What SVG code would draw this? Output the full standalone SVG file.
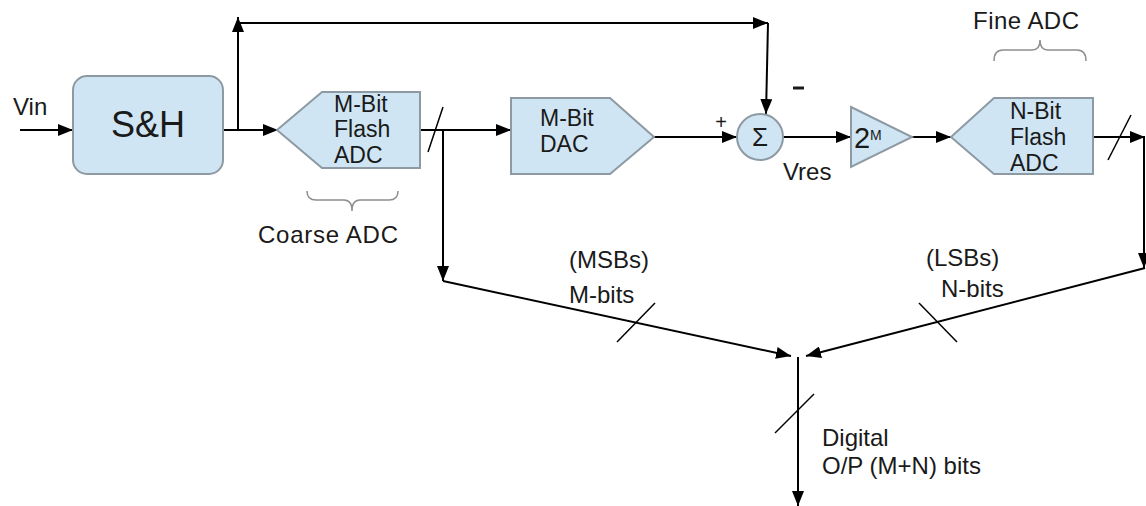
<svg xmlns="http://www.w3.org/2000/svg" width="1146" height="506" viewBox="0 0 1146 506">
<defs>
<marker id="ah" markerUnits="userSpaceOnUse" markerWidth="16" markerHeight="12" refX="15" refY="6" orient="auto">
<path d="M0,0 L15,6 L0,12 Z" fill="#000"/>
</marker>
<style>
.blk{fill:#cfe5f3;stroke:#8e9aa3;stroke-width:2}
.ln{fill:none;stroke:#000;stroke-width:2}
.arr{fill:none;stroke:#000;stroke-width:2;marker-end:url(#ah)}
.sl{fill:none;stroke:#000;stroke-width:1.5}
.br{fill:none;stroke:#8e8e8e;stroke-width:1.5}
text{font-family:"Liberation Sans",Arial,sans-serif;fill:#1a1a1a}
.t{font-size:23px}
.l{font-size:24px}
.big{font-size:36px}
</style>
</defs>
<rect width="1146" height="506" fill="#fff"/>
<g id="connectors">
<path class="arr" d="M20,130 H73"/>
<path class="arr" d="M223,130 H278"/>
<path class="arr" d="M238,130 V17"/>
<path class="arr" d="M238,23 H768"/>
<path class="arr" d="M768,23 L766,114"/>
<path class="arr" d="M405,130 H511"/>
<path class="arr" d="M443,130 V281"/>
<path class="arr" d="M443,281 L791,356"/>
<path class="arr" d="M647,137 H737"/>
<path class="arr" d="M783,137 H851"/>
<path class="arr" d="M911,137 H951"/>
<path class="arr" d="M1093,137 H1145"/>
<path class="arr" d="M1144,137 V268"/>
<path class="arr" d="M1145,268 L806,356"/>
<path class="arr" d="M798,357 V506"/>
<path class="sl" d="M428,152 L443,107"/>
<path class="sl" d="M1108,160 L1131,115"/>
<path class="sl" d="M617,342 L655,303"/>
<path class="sl" d="M919,303 L957,342"/>
<path class="sl" d="M775,433 L814,394"/>
</g>
<g id="sh">
<rect class="blk" x="73" y="76" width="150" height="98" rx="14"/>
<text class="big" x="148" y="137" text-anchor="middle">S&amp;H</text>
</g>
<g id="coarse-adc">
<polygon class="blk" points="277,130 322,92 420,92 420,168 322,168"/>
<text class="t" x="334" y="112">M-Bit</text>
<text class="t" x="334" y="137">Flash</text>
<text class="t" x="334" y="163">ADC</text>
</g>
<g id="dac">
<polygon class="blk" points="511,98 610,98 654,137 610,174 511,174"/>
<text class="t" x="540" y="126">M-Bit</text>
<text class="t" x="540" y="152">DAC</text>
</g>
<g id="sum">
<circle class="blk" cx="760" cy="137" r="23"/>
<text x="760" y="146" text-anchor="middle" style="font-size:26px">Σ</text>
</g>
<g id="amp">
<polygon class="blk" points="851,107 912,137 851,167"/>
<text x="854" y="148" style="font-size:29px">2</text>
<text x="870" y="140" style="font-size:14px">M</text>
</g>
<g id="fine-adc">
<polygon class="blk" points="951,137 994,98 1093,98 1093,174 994,174"/>
<text class="t" x="1010" y="119">N-Bit</text>
<text class="t" x="1010" y="145">Flash</text>
<text class="t" x="1010" y="171">ADC</text>
</g>
<g id="labels">
<text class="l" x="13" y="115">Vin</text>
<path class="br" d="M307,191 Q307,200 316,200 H344 Q352,200 352,211 Q352,200 360,200 H389 Q398,200 398,191"/>
<text class="l" x="258" y="243" textLength="140">Coarse ADC</text>
<path class="br" d="M994,61 Q994,50 1003,50 H1032 Q1040,50 1040,40 Q1040,50 1048,50 H1077 Q1086,50 1086,61"/>
<text class="l" x="973" y="29" textLength="106">Fine ADC</text>
<text class="l" x="783" y="180">Vres</text>
<text x="721" y="129" text-anchor="middle" style="font-size:20px">+</text>
<path d="M793,88 H804" stroke="#1a1a1a" stroke-width="3"/>
<text class="l" x="569" y="268">(MSBs)</text>
<text class="l" x="569" y="303">M-bits</text>
<text class="l" x="926" y="266">(LSBs)</text>
<text class="l" x="941" y="297">N-bits</text>
<text class="l" x="822" y="446">Digital</text>
<text class="l" x="822" y="474">O/P (M+N) bits</text>
</g>
</svg>
